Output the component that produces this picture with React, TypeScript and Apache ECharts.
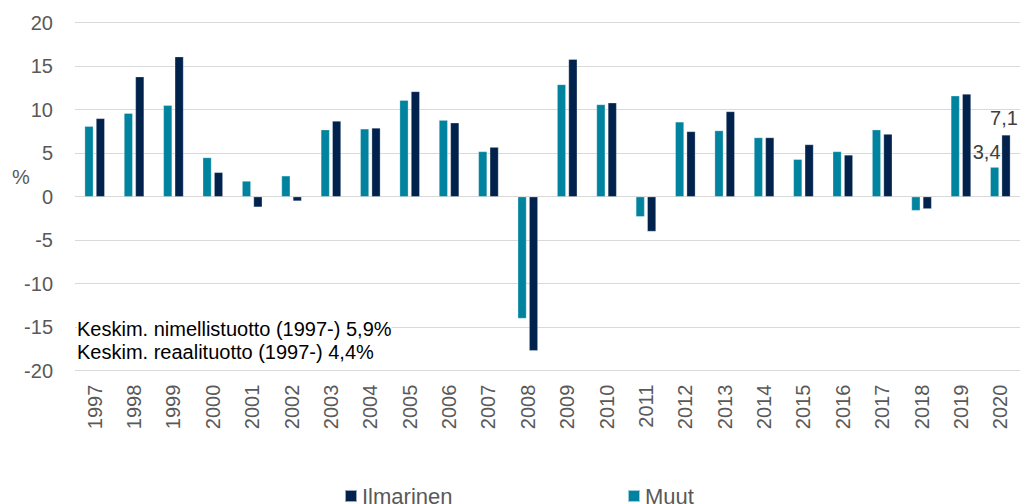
import React, { useEffect, useRef } from "react";
import * as echarts from "echarts";

const years = ["1997","1998","1999","2000","2001","2002","2003","2004","2005","2006","2007","2008","2009","2010","2011","2012","2013","2014","2015","2016","2017","2018","2019","2020"];
const muut = [8.1, 9.6, 10.5, 4.5, 1.8, 2.4, 7.7, 7.8, 11.1, 8.8, 5.2, -14.0, 12.9, 10.6, -2.3, 8.6, 7.6, 6.8, 4.3, 5.2, 7.7, -1.6, 11.6, 3.4];
const ilmarinen = [9.0, 13.8, 16.1, 2.8, -1.2, -0.5, 8.7, 7.9, 12.1, 8.5, 5.7, -17.7, 15.8, 10.8, -4.0, 7.5, 9.8, 6.8, 6.0, 4.8, 7.2, -1.4, 11.8, 7.1];
const yTicks = { min: -20, max: 20, interval: 5 };
const notes = ["Keskim. nimellistuotto (1997-) 5,9%", "Keskim. reaalituotto (1997-) 4,4%"];

const TEAL = "#00839E";
const NAVY = "#00224C";
const FONT = "'Liberation Sans', Arial, sans-serif";

export default function App() {
  const ref = useRef<HTMLDivElement>(null);
  useEffect(() => {
    document.body.style.margin = "0";
    const chart = echarts.init(ref.current!, null, { renderer: "svg" });
    const lastIdx = years.length - 1;
    const labelFor = (offset: number[]) => ({
      show: true,
      position: "top",
      offset,
      formatter: (p: any) => (p.dataIndex === lastIdx ? String(p.value).replace(".", ",") : ""),
      color: "#404040",
      fontSize: 20,
      fontFamily: FONT,
    });
    chart.setOption({
      animation: false,
      textStyle: { fontFamily: FONT },
      grid: { left: 75, right: 0, top: 22.7, height: 348, containLabel: false },
      legend: [
        {
          data: ["Ilmarinen"], left: 344, top: 485, padding: 0,
          itemWidth: 12, itemHeight: 12, icon: "rect",
          textStyle: { fontSize: 22, color: "#595959", fontFamily: FONT },
        },
        {
          data: ["Muut"], left: 627, top: 485, padding: 0,
          itemWidth: 12, itemHeight: 12, icon: "rect",
          textStyle: { fontSize: 22, color: "#595959", fontFamily: FONT },
        },
      ],
      xAxis: {
        type: "category",
        data: years,
        position: "bottom",
        axisLine: { show: false, onZero: false },
        axisTick: { show: false },
        axisLabel: { rotate: 90, margin: 14, fontSize: 20, color: "#595959", fontFamily: FONT },
      },
      yAxis: {
        type: "value",
        min: yTicks.min, max: yTicks.max, interval: yTicks.interval,
        axisLine: { show: false },
        axisTick: { show: false },
        axisLabel: { fontSize: 20, color: "#595959", margin: 22, fontFamily: FONT },
        splitLine: { lineStyle: { color: "#D9D9D9", width: 1 } },
      },
      series: [
        {
          name: "Muut", type: "bar", data: muut, barWidth: 8.7, barGap: "31%",
          itemStyle: { color: TEAL, borderColor: "rgba(255,255,255,0.6)", borderWidth: 0.5 },
          label: labelFor([-8, 0]),
        },
        {
          name: "Ilmarinen", type: "bar", data: ilmarinen, barWidth: 8.7, barGap: "31%",
          itemStyle: { color: NAVY, borderColor: "rgba(255,255,255,0.6)", borderWidth: 0.5 },
          label: labelFor([-2, -2]),
        },
      ],
      graphic: [
        { type: "text", left: 12, top: 167, z: 100, style: { text: "%", fontSize: 20, fill: "#595959", fontFamily: FONT } },
        { type: "text", left: 77, top: 319, z: 100, style: { text: notes[0], fontSize: 20, fill: "#000", fontFamily: FONT, backgroundColor: "#fff" } },
        { type: "text", left: 77, top: 342, z: 100, style: { text: notes[1], fontSize: 20, fill: "#000", fontFamily: FONT, backgroundColor: "#fff" } },
      ],
    });
    return () => chart.dispose();
  }, []);
  return <div ref={ref} style={{ width: 1020, height: 504 }} />;
}
